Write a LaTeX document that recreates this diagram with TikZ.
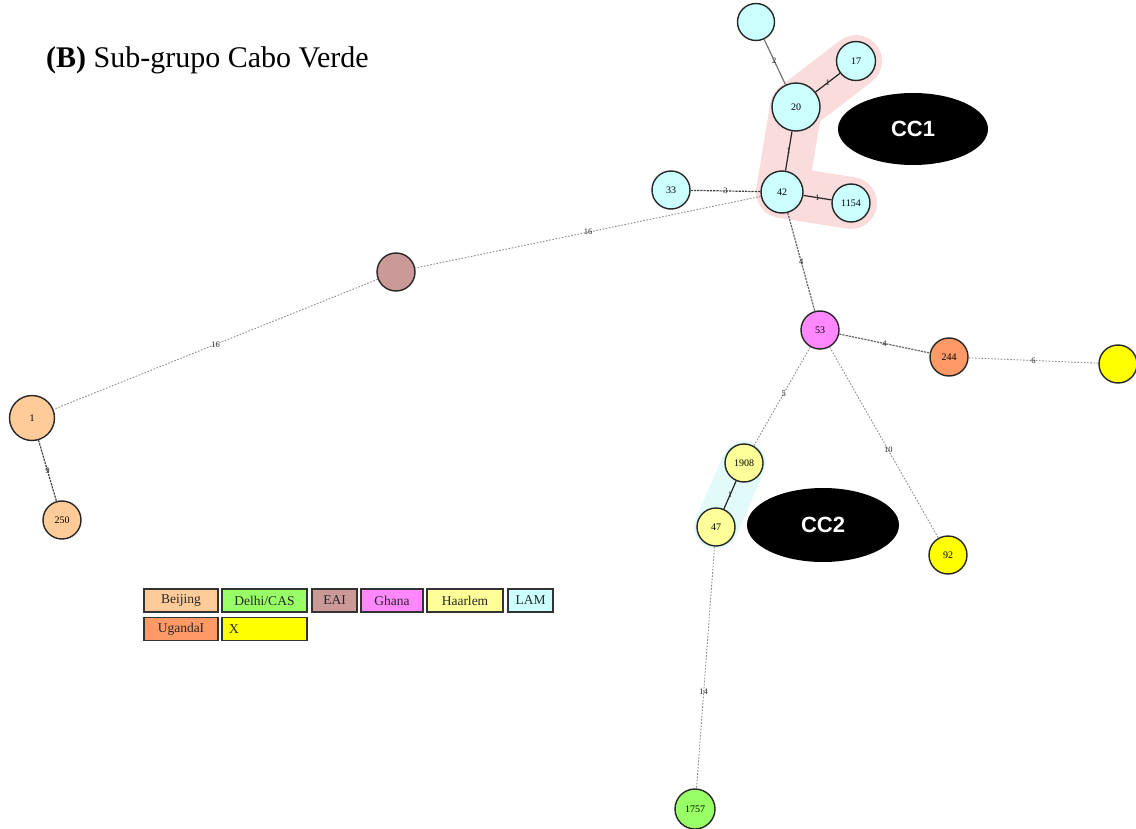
\documentclass[tikz,border=0pt]{standalone}
\usepackage{fontspec}
\setmainfont{Liberation Serif}
\newfontfamily\ccfont{Liberation Sans}
\usetikzlibrary{backgrounds,shapes.geometric}
\definecolor{cBeijing}{HTML}{FFCC99}
\definecolor{cDelhi}{HTML}{99FF66}
\definecolor{cEAI}{HTML}{CC9999}
\definecolor{cGhana}{HTML}{FF88FF}
\definecolor{cHaarlem}{HTML}{FFFF99}
\definecolor{cLAM}{HTML}{CCFFFF}
\definecolor{cUganda}{HTML}{FF9966}
\definecolor{cX}{HTML}{FFFF00}
\definecolor{hlpink}{HTML}{FADCDC}
\definecolor{hlcyan}{HTML}{E2FAFA}
\tikzset{
  st/.style={circle, draw=black!85, line width=1.4pt, inner sep=0pt, minimum size=#1, font=\fontsize{10}{10}\selectfont},
  st/.default=38pt,
  dotedge/.style={draw=black!45, line width=0.9pt, dash pattern=on 1.6pt off 1.6pt},
  dashedge/.style={draw=black!75, line width=1.2pt, dash pattern=on 2.2pt off 1pt},
  solidedge/.style={draw=black!85, line width=1.2pt},
  grayedge/.style={draw=black!55, line width=1.2pt},
  elab/.style={font=\fontsize{8.5}{8.5}\selectfont, inner sep=0.5pt, text=black!85},
  ccbox/.style={ellipse, fill=black, minimum width=#1, font=\ccfont\bfseries\fontsize{22}{22}\selectfont, text=white},
  legbox/.style={draw=black!80, line width=1.2pt, minimum height=23pt, inner sep=0pt, font=\fontsize{13.5}{13.5}\selectfont, text=black!85},
}
\begin{document}
\begin{tikzpicture}[x=1pt, y=-1pt]
\useasboundingbox (0,0) rectangle (1136,829);
% title
\node[anchor=base west, inner sep=0pt, font=\fontsize{30}{30}\selectfont] (title) at (46,68) {\textbf{(B)} Sub-grupo Cabo Verde};
% nodes
\node[st=37pt, fill=cLAM] (top) at (756,22) {};
\node[st=39pt, fill=cLAM] (n17) at (856,61) {17};
\node[st=48pt, fill=cLAM] (n20) at (796,107) {20};
\node[st=42pt, fill=cLAM] (n42) at (782,192) {42};
\node[st=38pt, fill=cLAM] (n33) at (671,190) {33};
\node[st=38pt, fill=cLAM] (n1154) at (851,203) {1154};
\node[st=38pt, fill=cEAI] (eai) at (396,272) {};
\node[st=45pt, fill=cBeijing] (n1) at (32,418) {1};
\node[st=38pt, fill=cBeijing] (n250) at (62,520) {250};
\node[st=38pt, fill=cGhana] (n53) at (820,330) {53};
\node[st=38pt, fill=cUganda] (n244) at (949,357) {244};
\node[st=38pt, fill=cX] (xr) at (1118,364) {};
\node[st=38pt, fill=cHaarlem] (n1908) at (744,463) {1908};
\node[st=38pt, fill=cHaarlem] (n47) at (716,527) {47};
\node[st=38pt, fill=cX] (n92) at (948,555) {92};
\node[st=40pt, fill=cDelhi] (n1757) at (695,809) {1757};
% CC labels
\node[ccbox=150pt, minimum height=72pt] (cc1) at (913,129) {CC1};
\node[ccbox=152pt, minimum height=74pt] (cc2) at (823,525) {CC2};
% highlight bands
\begin{scope}[on background layer]
\draw[hlpink, line width=52pt, line cap=round, line join=round] (n17.center) -- (n20.center) -- (n42.center) -- (n1154.center);
\draw[hlcyan, line width=44pt, line cap=round] (n1908.center) -- (n47.center);
\end{scope}
% edges
\draw[grayedge] (top) -- node[elab, pos=0.47] {2} (n20);
\draw[solidedge] (n20) -- node[elab] {1} (n17);
\draw[solidedge] (n20) -- node[elab] {1} (n42);
\draw[solidedge] (n42) -- node[elab] {1} (n1154);
\draw[dashedge] (n33) -- node[elab] {3} (n42);
\draw[dotedge] (n42) -- node[elab] {16} (eai);
\draw[dotedge] (eai) -- node[elab] {16} (n1);
\draw[dashedge] (n1) -- node[elab] {9} (n250);
\draw[dashedge, draw=black!60] (n42) -- node[elab] {4} (n53);
\draw[dashedge, draw=black!60] (n53) -- node[elab] {4} (n244);
\draw[dotedge] (n244) -- node[elab] {6} (xr);
\draw[dotedge] (n53) -- node[elab, pos=0.47] {5} (n1908);
\draw[dotedge] (n53) -- node[elab, pos=0.54] {10} (n92);
\draw[solidedge] (n1908) -- node[elab] {1} (n47);
\draw[dotedge] (n47) -- node[elab, pos=0.6] {14} (n1757);
% legend
\node[legbox, fill=cBeijing, minimum width=74pt] (lg1) at (181,600.5) {Beijing};
\node[legbox, fill=cDelhi, minimum width=85pt] (lg2) at (264.5,600.5) {Delhi/CAS};
\node[legbox, fill=cEAI, minimum width=45pt] (lg3) at (334.5,600.5) {EAI};
\node[legbox, fill=cGhana, minimum width=62pt] (lg4) at (392,600.5) {Ghana};
\node[legbox, fill=cHaarlem, minimum width=76pt] (lg5) at (465,600.5) {Haarlem};
\node[legbox, fill=cLAM, minimum width=45pt] (lg6) at (530.5,600.5) {LAM};
\node[legbox, fill=cUganda, minimum width=74pt] (lg7) at (181,629) {UgandaI};
\node[legbox, fill=cX, minimum width=85pt, text width=71pt, align=left] (lg8) at (264.5,629) {X};
\end{tikzpicture}
\end{document}
